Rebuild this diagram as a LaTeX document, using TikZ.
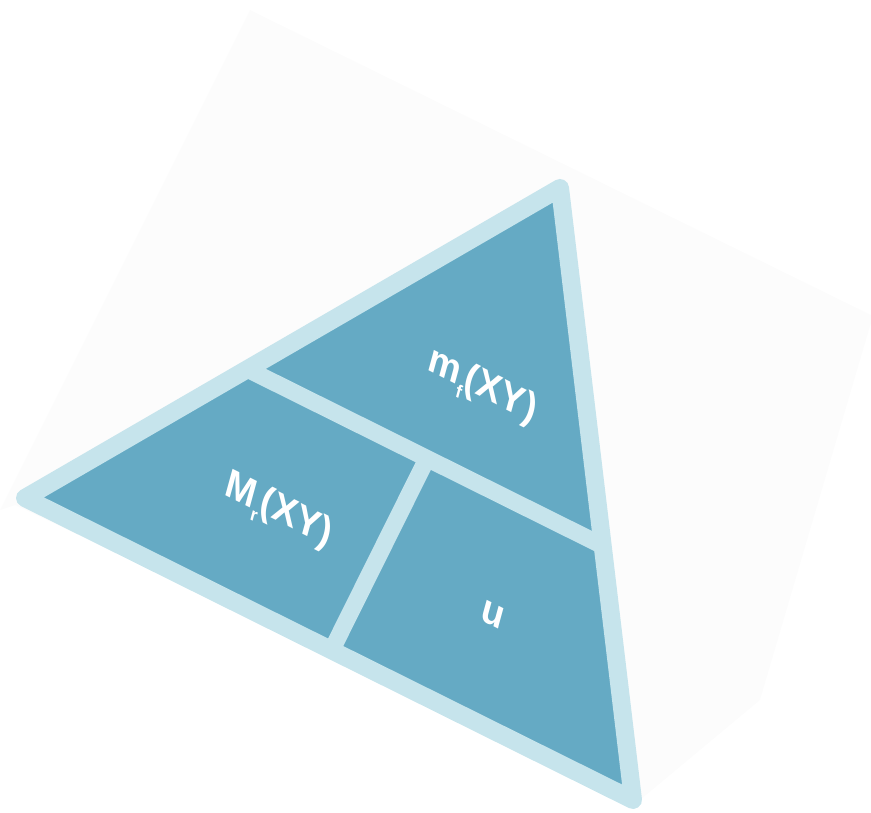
\documentclass[tikz,border=0pt]{standalone}
\usepackage{fontspec}
\setmainfont{Liberation Sans}
\definecolor{fillblue}{RGB}{101,170,196}
\definecolor{edgeblue}{RGB}{198,228,236}
\definecolor{faintgray}{RGB}{252,252,252}
\newcommand{\lowsub}[1]{\raisebox{-0.28em}{\fontsize{18}{18}\selectfont #1}}
\begin{document}
\begin{tikzpicture}[x=1pt,y=-1pt,
  rim/.style={draw=edgeblue,line width=18pt,line join=round},
  band/.style={draw=edgeblue,line width=17pt},
  lbl/.style={text=white,font=\bfseries\fontsize{39}{44}\selectfont,rotate=-26.6,xslant=-0.2,inner sep=0pt}]
\useasboundingbox (0,0) rectangle (871,813);
\fill[faintgray] (250,10) -- (873,316) -- (760,700) -- (640,800) -- (15,505) -- (0,510) -- cycle;
\coordinate (A) at (25,498);
\coordinate (B) at (560,188);
\coordinate (C) at (633,800);
\fill[fillblue] (A) -- (B) -- (C) -- cycle;
\begin{scope}
  \clip (A) -- (B) -- (C) -- cycle;
  \coordinate (h1) at (0,246.2);
  \coordinate (h2) at (871,679.1);
  \coordinate (v1) at (427,458.5);
  \coordinate (v2) at (297,720);
  \draw[band] (h1) -- (h2);
  \draw[band] (v1) -- (v2);
\end{scope}
\draw[rim] (A) -- (B) -- (C) -- cycle;
\node[lbl] (ntop) at (482,388) {m\lowsub{f}(XY)};
\node[lbl] (nleft) at (278,512) {M\lowsub{r}(XY)};
\node[lbl] (nright) at (493,615) {u};
\end{tikzpicture}
\end{document}
